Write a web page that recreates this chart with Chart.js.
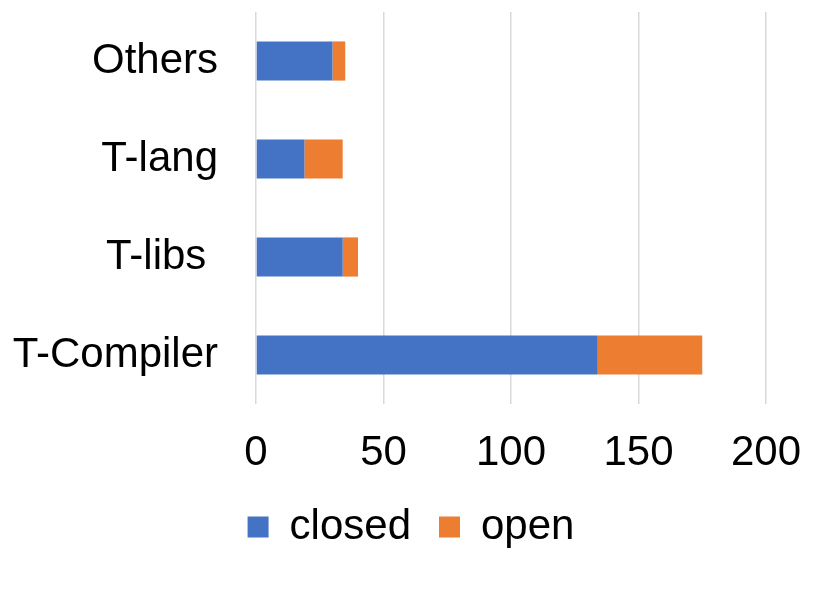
<!DOCTYPE html>
<html>
<head>
<meta charset="utf-8">
<script src="https://cdn.jsdelivr.net/npm/chart.js@4"></script>
<style>
  html, body { margin: 0; padding: 0; background: #fff; }
  #wrap { width: 822px; height: 602px; }
</style>
</head>
<body>
<div id="wrap"><canvas id="issues-chart"></canvas></div>
<script>
const categories = ["Others", "T-lang", "T-libs ", "T-Compiler"];
const closedValues = [30, 19, 34, 134];
const openValues = [5, 15, 6, 41];
const xTicks = [0, 50, 100, 150, 200];

document.addEventListener("DOMContentLoaded", function () {
  const ctx = document.getElementById("issues-chart").getContext("2d");
  const font = { family: "'Liberation Sans', Arial, sans-serif", size: 42 };

  new Chart(ctx, {
    type: "bar",
    data: {
      labels: categories,
      datasets: [
        {
          label: "closed",
          data: closedValues,
          backgroundColor: "#4472C4",
          categoryPercentage: 0.8,
          barPercentage: 0.5,
        },
        {
          label: "open",
          data: openValues,
          backgroundColor: "#ED7D31",
          categoryPercentage: 0.8,
          barPercentage: 0.5,
        },
      ],
    },
    options: {
      indexAxis: "y",
      responsive: true,
      maintainAspectRatio: false,
      animation: false,
      layout: { padding: { top: 12, left: 0, right: 0, bottom: 44 } },
      scales: {
        x: {
          stacked: true,
          min: xTicks[0],
          max: xTicks[xTicks.length - 1],
          afterBuildTicks: (axis) => {
            axis.ticks = xTicks.map((v) => ({ value: v }));
          },
          afterFit: (axis) => {
            axis.paddingLeft = 0;
            axis.paddingRight = 56;
            axis.height = 74;
          },
          grid: { color: "#d9d9d9", lineWidth: 1.5, drawTicks: false },
          border: { display: false },
          ticks: { color: "#000", font: font, padding: 24, maxRotation: 0 },
        },
        y: {
          stacked: true,
          afterFit: (axis) => {
            axis.paddingTop = 0;
            axis.paddingBottom = 0;
            axis.width = 256;
          },
          grid: { display: false, drawTicks: false },
          border: { display: false },
          ticks: { color: "#000", font: font, padding: 38 },
        },
      },
      plugins: {
        legend: {
          position: "bottom",
          labels: {
            color: "#000",
            font: font,
            boxWidth: 21,
            boxHeight: 21,
            padding: 28,
          },
        },
        tooltip: { enabled: false },
      },
    },
  });
});
</script>
</body>
</html>
